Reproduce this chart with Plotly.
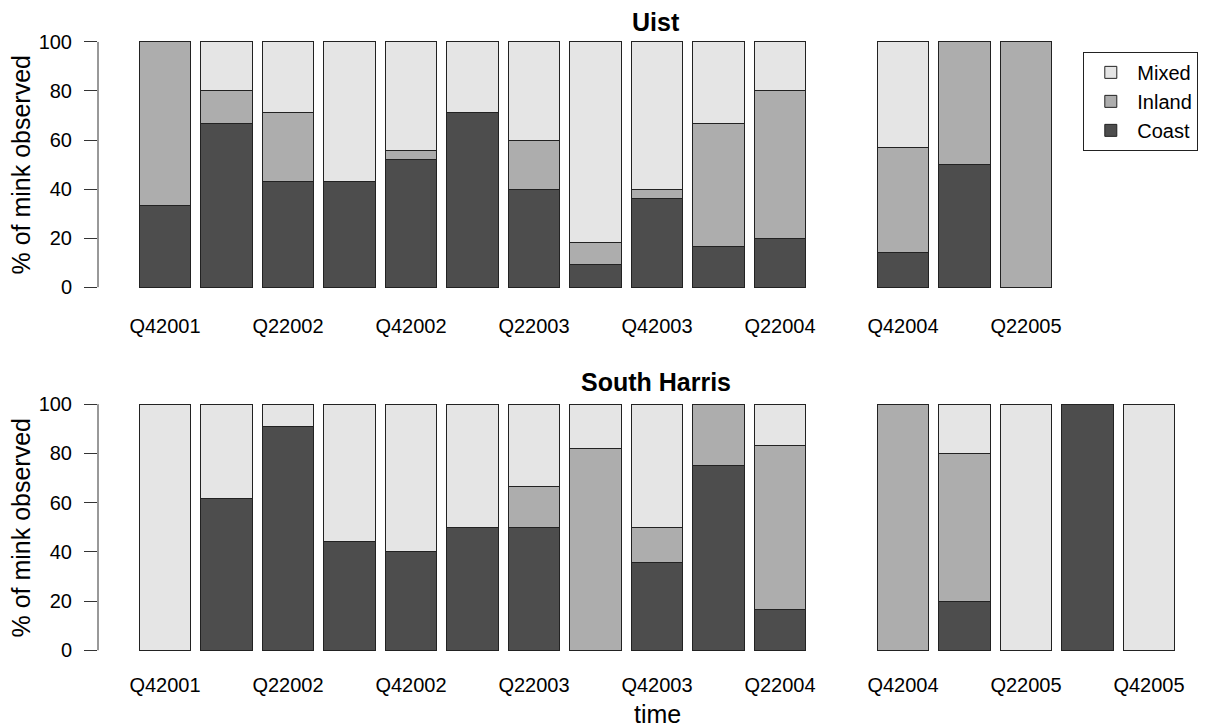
import plotly.graph_objects as go

# Quarterly observation periods (Q32004 had no survey)
quarters = ["Q42001", "Q12002", "Q22002", "Q32002", "Q42002", "Q12003",
            "Q22003", "Q32003", "Q42003", "Q12004", "Q22004", "Q32004",
            "Q42004", "Q12005", "Q22005", "Q32005", "Q42005"]

# Uist: % of mink observed by habitat
uist_coast = [33.3, 66.7, 42.9, 42.9, 51.9, 71.4, 40.0, 9.1, 36.0, 16.7, 20.0, None,
              14.3, 50.0, 0.0, None, None]
uist_inland = [66.7, 13.3, 28.5, 0.0, 3.7, 0.0, 20.0, 9.1, 4.0, 50.0, 60.0, None,
               42.8, 50.0, 100.0, None, None]
uist_mixed = [0.0, 20.0, 28.6, 57.1, 44.4, 28.6, 40.0, 81.8, 60.0, 33.3, 20.0, None,
              42.9, 0.0, 0.0, None, None]

# South Harris: % of mink observed by habitat
harris_coast = [0.0, 61.5, 90.9, 44.0, 40.0, 50.0, 50.0, 0.0, 35.7, 75.0, 16.7, None,
                0.0, 20.0, 0.0, 100.0, 0.0]
harris_inland = [0.0, 0.0, 0.0, 0.0, 0.0, 0.0, 16.7, 81.8, 14.3, 25.0, 66.6, None,
                 100.0, 60.0, 0.0, 0.0, 0.0]
harris_mixed = [100.0, 38.5, 9.1, 56.0, 60.0, 50.0, 33.3, 18.2, 50.0, 0.0, 16.7, None,
                0.0, 20.0, 100.0, 0.0, 100.0]

habitats = ["Coast", "Inland", "Mixed"]
colors = {"Coast": "#4d4d4d", "Inland": "#adadad", "Mixed": "#e5e5e5"}

uist_ticks = ["Q42001", "Q22002", "Q42002", "Q22003", "Q42003", "Q22004",
              "Q42004", "Q22005"]
harris_ticks = uist_ticks + ["Q42005"]

FONT = "Liberation Sans, Arial, sans-serif"
W, H = 1207, 728
LEFT = 98

fig = go.Figure()

panels = [
    ("x", "y", {"Coast": uist_coast, "Inland": uist_inland, "Mixed": uist_mixed}, True),
    ("x2", "y2", {"Coast": harris_coast, "Inland": harris_inland, "Mixed": harris_mixed}, False),
]
for xa, ya, series, show in panels:
    for h in habitats:
        fig.add_trace(go.Bar(
            x=quarters, y=series[h], name=h, xaxis=xa, yaxis=ya,
            marker=dict(color=colors[h], line=dict(color="#222222", width=1)),
            showlegend=show,
        ))


def px_x(p):
    return (p - LEFT) / (W - LEFT)


def px_y(p):
    return 1 - p / H


xrange = [-1.089, -1.089 + (W - LEFT) / 61.5]

common_x = dict(type="category", categoryarray=quarters, range=xrange,
                showgrid=False, zeroline=False, showline=False,
                ticks="outside", tickcolor="rgba(0,0,0,0)",
                tickfont=dict(size=20, family=FONT, color="#000"))
common_y = dict(range=[-4, 104], tickvals=[0, 20, 40, 60, 80, 100],
                showgrid=False, zeroline=False, showline=False,
                ticks="outside", ticklen=13, tickwidth=1, tickcolor="#333",
                ticklabelstandoff=8,
                tickfont=dict(size=20, family=FONT, color="#000"))

fig.update_layout(
    width=W, height=H,
    margin=dict(l=LEFT, r=0, t=0, b=0),
    paper_bgcolor="white", plot_bgcolor="white",
    barmode="stack", bargap=0.1667,
    font=dict(family=FONT, color="#000"),
    xaxis=dict(common_x, anchor="y", domain=[0, 1], tickvals=uist_ticks,
               ticktext=uist_ticks, ticklen=11),
    yaxis=dict(common_y, anchor="x", domain=[px_y(296.8), px_y(31.2)]),
    xaxis2=dict(common_x, anchor="y2", domain=[0, 1], tickvals=harris_ticks,
                ticktext=harris_ticks, ticklen=7),
    yaxis2=dict(common_y, anchor="x2", domain=[px_y(660.9), px_y(394.4)]),
    legend=dict(x=px_x(1083.3), y=px_y(51), xanchor="left", yanchor="top",
                traceorder="reversed", bordercolor="#222", borderwidth=1,
                itemwidth=43,
                bgcolor="white", font=dict(size=20, family=FONT, color="#000")),
)

# y axis lines spanning only the 0-100 tick range
for ya in ["y", "y2"]:
    fig.add_shape(type="line", xref="paper", yref=ya, x0=0, x1=0, y0=0, y1=100,
                  line=dict(color="#333", width=1))

# panel titles and axis labels
annots = [
    dict(text="<b>Uist</b>", x=px_x(656), y=px_y(21), size=25, angle=0),
    dict(text="<b>South Harris</b>", x=px_x(656), y=px_y(382.5), size=25, angle=0),
    dict(text="time", x=px_x(657.5), y=px_y(715), size=25, angle=0),
    dict(text="% of mink observed", x=px_x(21), y=px_y(164), size=25, angle=-90),
    dict(text="% of mink observed", x=px_x(21), y=px_y(528), size=25, angle=-90),
]
for a in annots:
    fig.add_annotation(text=a["text"], x=a["x"], y=a["y"], xref="paper", yref="paper",
                       xanchor="center", yanchor="middle", showarrow=False,
                       textangle=a["angle"],
                       font=dict(size=a["size"], family=FONT, color="#000"))

fig.write_html("out.html")
